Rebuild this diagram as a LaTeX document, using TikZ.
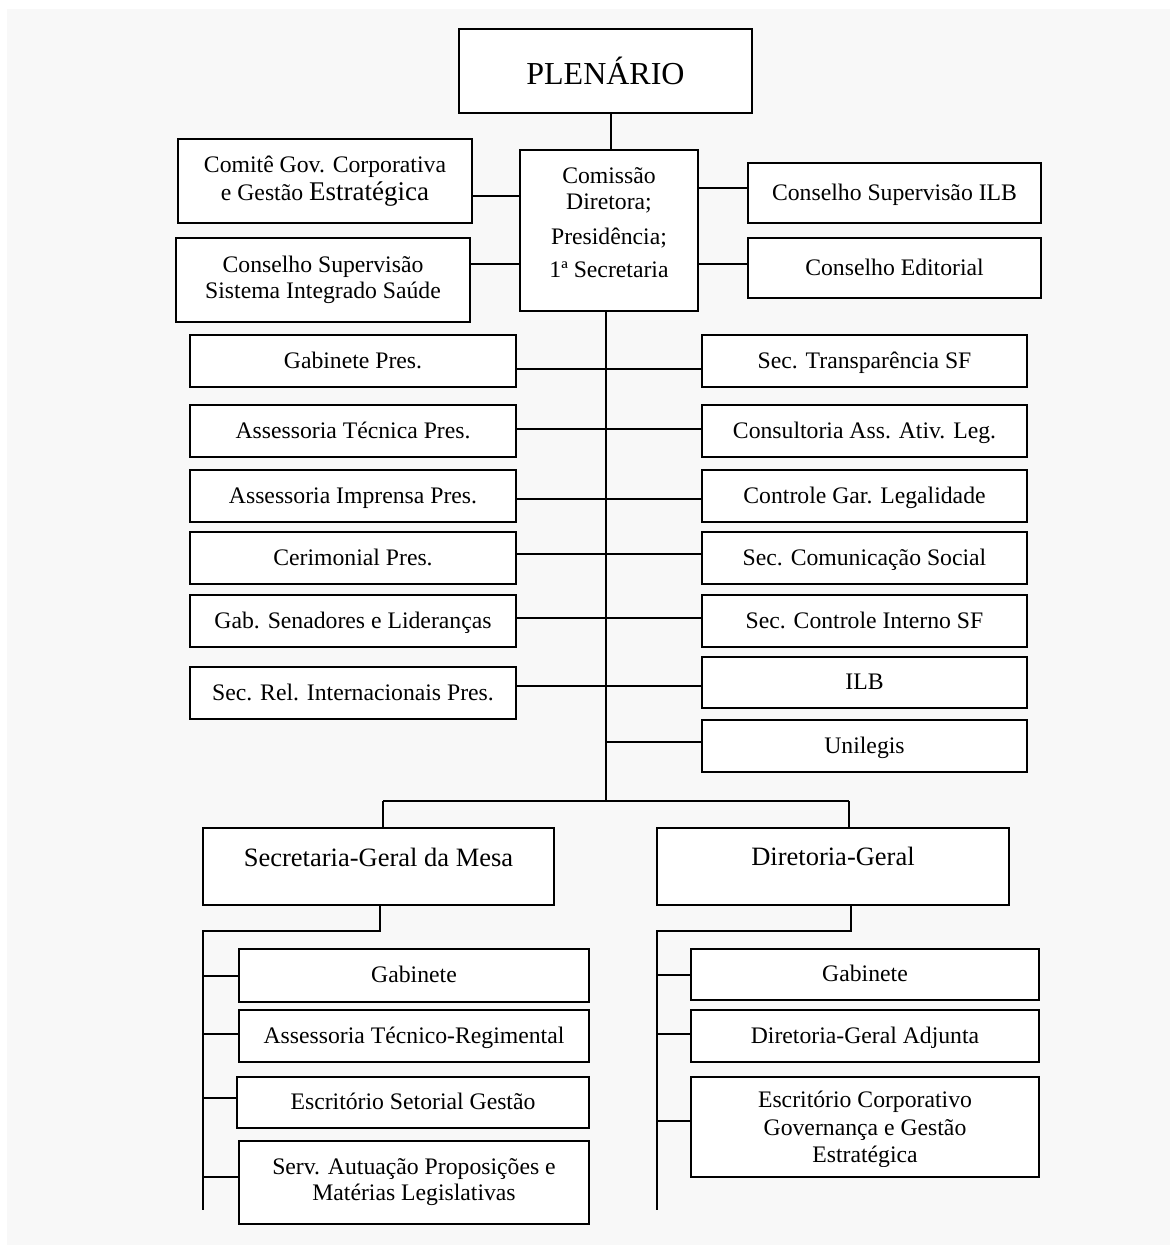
\documentclass[tikz,border=0pt]{standalone}
\usepackage{fontspec}
\setmainfont{Liberation Serif}
\usetikzlibrary{calc}
\definecolor{pagegray}{HTML}{F8F8F8}

% a rectangular unit: [options]{left}{top}{right}{bottom}{name} {text};
\newcommand\orgbox[6][]{%
  \node[box,minimum width={(#4-#2)*1bp},minimum height={(#5-#3)*1bp},#1] (#6)
    at ({(#2+#4)/2},{(#3+#5)/2})}

\begin{document}
\begin{tikzpicture}[x=1bp,y=-1bp,
  box/.style={draw=black,line width=2.2bp,fill=white,inner sep=0pt,align=center,
    font=\fontsize{23.7bp}{26bp}\selectfont},
  one/.style={text height=17bp,text depth=3bp},
  txt/.style={inner sep=0pt,align=center,font=\fontsize{23.7bp}{26bp}\selectfont},
  bigtxt/.style={inner sep=0pt,font=\fontsize{26.5bp}{30bp}\selectfont},
  conn/.style={draw=black,line width=2bp},
]
\useasboundingbox (0,0) rectangle (1170,1245);
\fill[white] (0,0) rectangle (1170,1245);
\fill[pagegray] (7,9) rectangle (1170,1245);

% ---- top level
\orgbox[font=\fontsize{32bp}{36bp}\selectfont]{459}{29}{752}{113}{pl} {PLENÁRIO};
\orgbox{520}{150}{698}{311}{cd} {};
\node[txt] (cdt) at ([yshift=7.5bp]cd.center)
  {Comissão\\Diretora;\\[9bp]Presidência;\\[7bp]1ª Secretaria};

\orgbox[font=\fontsize{23.7bp}{28bp}\selectfont]{178}{139}{472}{223}{cgc}
  {Comitê Gov. Corporativa\\e Gestão {\fontsize{27bp}{28bp}\selectfont Estratégica}};
\orgbox{176}{238}{470}{322}{cssis} {Conselho Supervisão\\Sistema Integrado Saúde};
\orgbox[one]{748}{163}{1041}{223}{csilb} {Conselho Supervisão ILB};
\orgbox[one]{748}{238}{1041}{298}{ced} {Conselho Editorial};

% ---- units attached to the central line
\orgbox[one]{190}{335}{516}{387}{gp} {Gabinete Pres.};
\orgbox[one]{190}{405}{516}{457}{atp} {Assessoria Técnica Pres.};
\orgbox[one]{190}{470}{516}{522}{aip} {Assessoria Imprensa Pres.};
\orgbox[one]{190}{532}{516}{584}{cer} {Cerimonial Pres.};
\orgbox[one]{190}{595}{516}{647}{gsl} {Gab. Senadores e Lideranças};
\orgbox[one]{190}{667}{516}{719}{sri} {Sec. Rel. Internacionais Pres.};

\orgbox[one]{702}{335}{1027}{387}{stsf} {Sec. Transparência SF};
\orgbox[one]{702}{405}{1027}{457}{caal} {Consultoria Ass. Ativ. Leg.};
\orgbox[one]{702}{470}{1027}{522}{cgl} {Controle Gar. Legalidade};
\orgbox[one]{702}{532}{1027}{584}{scs} {Sec. Comunicação Social};
\orgbox[one]{702}{595}{1027}{647}{scisf} {Sec. Controle Interno SF};
\orgbox[one]{702}{657}{1027}{708}{ilb} {ILB};
\orgbox[one]{702}{720}{1027}{772}{uni} {Unilegis};

% ---- the two secretariats
\orgbox{203}{828}{554}{905}{sgm} {};
\node[bigtxt] (sgmt) at ([yshift=9.5bp]sgm.center) {Secretaria-Geral da Mesa};
\orgbox{657}{828}{1009}{905}{dg} {};
\node[bigtxt] (dgt) at ([yshift=10.5bp]dg.center) {Diretoria-Geral};

\orgbox[one]{239}{949}{589}{1002}{sgab} {Gabinete};
\orgbox[one]{239}{1010}{589}{1062}{satr} {Assessoria Técnico-Regimental};
\orgbox[one]{237}{1077}{589}{1128}{sesg} {Escritório Setorial Gestão};
\orgbox{239}{1141}{589}{1224}{sserv} {Serv. Autuação Proposições e\\Matérias Legislativas};

\orgbox[one]{691}{949}{1039}{1000}{dgab} {Gabinete};
\orgbox[one]{691}{1010}{1039}{1062}{ddga} {Diretoria-Geral Adjunta};
\orgbox{691}{1077}{1039}{1177}{decg} {};
\begin{scope}
  \clip (691,1077) rectangle (1039,1166);
  \node[txt,font=\fontsize{23.7bp}{27.5bp}\selectfont] (decgt) at ([yshift=-2.5bp]decg.center)
    {Escritório Corporativo\\Governança e Gestão\\Estratégica};
\end{scope}

% ---- connectors, top level
\draw[conn] ([xshift=5.5bp]pl.south) -- ([xshift=5.5bp]pl.south |- cd.north);
\draw[conn] ([yshift=-15bp]cgc.east) -- ([yshift=-15bp]cgc.east -| cd.west);
\draw[conn] ([yshift=16bp]cssis.east) -- ([yshift=16bp]cssis.east -| cd.west);
\draw[conn] ([yshift=5bp]csilb.west) -- ([yshift=5bp]csilb.west -| cd.east);
\draw[conn] ([yshift=4bp]ced.west) -- ([yshift=4bp]ced.west -| cd.east);

% ---- central line and its branches
\coordinate (hub) at (606,801);
\draw[conn] (cd.south -| hub) -- (hub);
\draw[conn] ([yshift=-8bp]gp.east) -- ([yshift=-8bp]gp.east -| stsf.west);
\draw[conn] ([yshift=2bp]atp.east) -- ([yshift=2bp]atp.east -| caal.west);
\draw[conn] ([yshift=-3bp]aip.east) -- ([yshift=-3bp]aip.east -| cgl.west);
\draw[conn] ([yshift=4bp]cer.east) -- ([yshift=4bp]cer.east -| scs.west);
\draw[conn] ([yshift=3bp]gsl.east) -- ([yshift=3bp]gsl.east -| scisf.west);
\draw[conn] ([yshift=-3.5bp]ilb.west) -- ([yshift=-3.5bp]ilb.west -| sri.east);
\draw[conn] ([yshift=4bp]uni.west) -- ([yshift=4bp]uni.west -| hub);

% ---- split towards the two secretariats
\coordinate (bl) at (383,801);
\coordinate (br) at (849,801);
\draw[conn] (bl) -- (br);
\draw[conn] (bl) -- (bl |- sgm.north);
\draw[conn] (br) -- (br |- dg.north);

% ---- Secretaria-Geral da Mesa units
\coordinate (sgl) at (203,931);
\coordinate (sge) at (203,1210);
\draw[conn] ([xshift=1.5bp]sgm.south) |- (sgl) -- (sge);
\draw[conn] (sgab.west -| sgl) -- (sgab.west);
\draw[conn] ([yshift=2bp]satr.west -| sgl) -- ([yshift=2bp]satr.west);
\draw[conn] ([yshift=4.5bp]sesg.west -| sgl) -- ([yshift=4.5bp]sesg.west);
\draw[conn] ([yshift=5.5bp]sserv.west -| sgl) -- ([yshift=5.5bp]sserv.west);

% ---- Diretoria-Geral units
\coordinate (dgl) at (657,931);
\coordinate (dge) at (657,1210);
\draw[conn] ([xshift=18bp]dg.south) |- (dgl) -- (dge);
\draw[conn] (dgab.west -| dgl) -- (dgab.west);
\draw[conn] ([yshift=2bp]ddga.west -| dgl) -- ([yshift=2bp]ddga.west);
\draw[conn] ([yshift=6bp]decg.west -| dgl) -- ([yshift=6bp]decg.west);
\end{tikzpicture}
\end{document}
